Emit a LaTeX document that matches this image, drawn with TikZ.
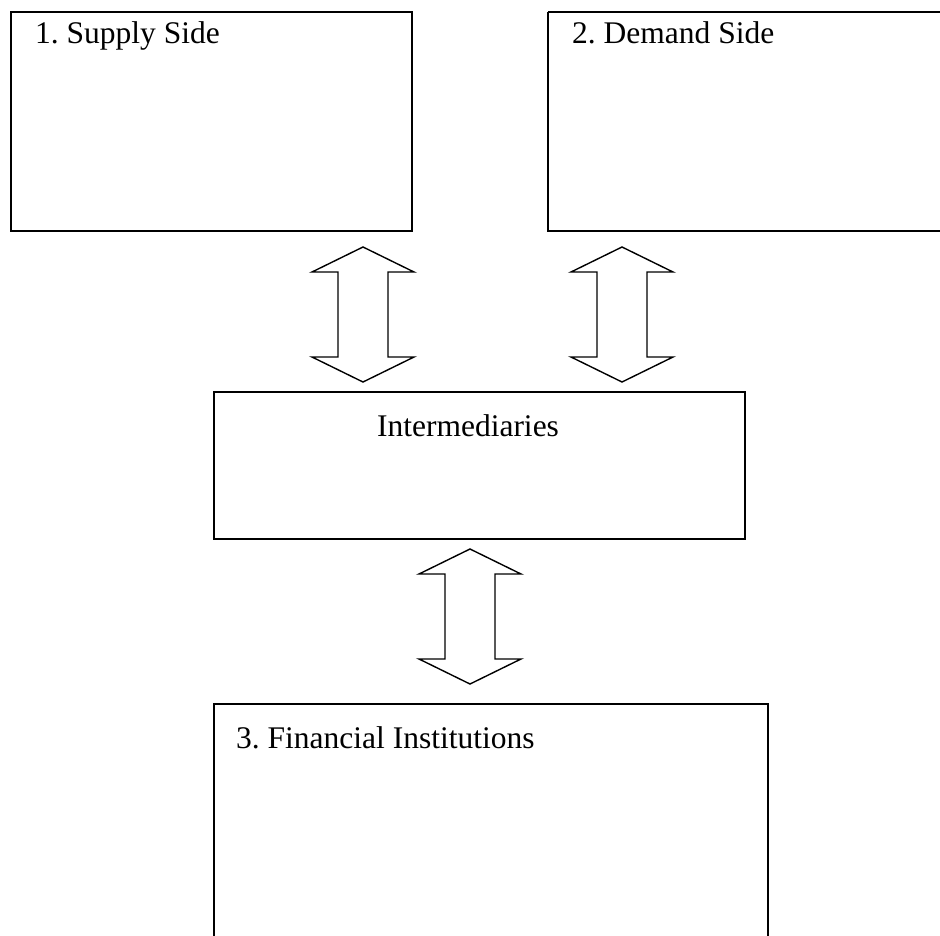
\documentclass[tikz,border=0pt]{standalone}
\usepackage{fontspec}
\setmainfont{Liberation Serif}
\frenchspacing
\begin{document}
\begin{tikzpicture}[x=1pt,y=-1pt,
  box/.style={draw=black,line width=1.6pt,inner sep=0pt},
  dblarrow/.style={draw=black,line width=1.4pt,line join=miter,fill=white},
  lbl/.style={font=\fontsize{31.5}{36}\selectfont,inner sep=0pt,anchor=base west}]
\useasboundingbox (0,0) rectangle (940,935);
% boxes
\draw[box] (11,12) rectangle (412,231);
\draw[box] (548,12) -- (960,12) (548,12) -- (548,231) -- (960,231);
\draw[box] (214,392) rectangle (745,539);
\draw[box] (214,960) -- (214,704) -- (768,704) -- (768,960);
\node[lbl] (tsup) at (35,43) {1. Supply Side};
\node[lbl] (tdem) at (572,43) {2. Demand Side};
\node[lbl,anchor=base] (tint) at (468,436) {Intermediaries};
\node[lbl] (tfin) at (236,748) {3. Financial Institutions};
% hollow double-headed arrows
\newcommand{\dblarr}[4]{% centre x, top tip y, bottom tip y, name
  \draw[dblarrow] (#1,#2) -- (#1+51,#2+25) -- (#1+25,#2+25) -- (#1+25,#3-25) -- (#1+51,#3-25)
    -- (#1,#3) -- (#1-51,#3-25) -- (#1-25,#3-25) -- (#1-25,#2+25) -- (#1-51,#2+25) -- cycle;
  \coordinate (#4) at (#1,#2);}
\dblarr{363}{247}{382}{a1}
\dblarr{622}{247}{382}{a2}
\dblarr{470}{549}{684}{a3}
\end{tikzpicture}
\end{document}
